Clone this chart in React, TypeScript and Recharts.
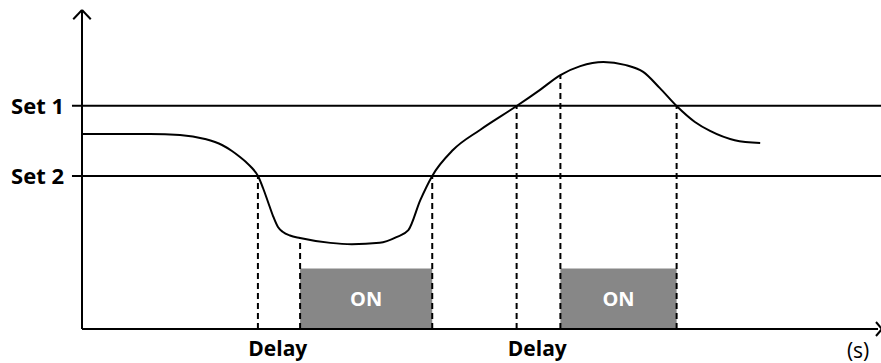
import {
  ComposedChart,
  Line,
  ReferenceArea,
  ReferenceLine,
  XAxis,
  YAxis,
} from "recharts";

// time axis 0..100, level axis 0..100
const curveT = [0, 8.54, 12.31, 15.45, 17.59, 18.84, 19.85, 20.6, 21.36, 22.11, 22.74, 23.37, 24.0, 24.62, 25.25, 26.13, 27.39, 31.2, 33.9, 37.4, 39.5, 41.0, 42.5, 44.0, 46.6, 50.0, 54.6, 57.5, 60.1, 62.6, 65.5, 68.2, 70.5, 72.6, 74.7, 77.0, 78.9, 82.0, 85.2];
const curveV = [61.1, 61.1, 60.82, 59.56, 57.68, 55.8, 53.92, 52.35, 50.47, 47.96, 44.2, 39.81, 35.42, 31.97, 30.41, 29.31, 28.53, 27.0, 26.6, 27.0, 28.8, 31.0, 40.4, 48.0, 56.1, 62.4, 69.9, 74.9, 79.6, 82.4, 83.7, 82.8, 80.6, 75.5, 69.9, 64.9, 62.1, 59.2, 58.3];

const setLevels = [70, 48];
const setLabels = ["Set 1", "Set 2"];

const markerT = [22.1, 27.4, 44.0, 54.6, 60.1, 74.7];
const markerTop = [48, 28.5, 48, 70, 79.6, 70];

const onStart = [27.4, 60.1];
const onEnd = [44.0, 74.7];
const onLevel = 19;

const xTickPos = [24.6, 57.2, 97.5];
const xTickLabels = ["Delay", "Delay", "(s)"];

const curveData = curveT.map((t, i) => ({ t, v: curveV[i] }));

const FONT = "'Open Sans', sans-serif";

function XTick({ x, y, index }: { x?: number; y?: number; index?: number }) {
  const label = xTickLabels[index ?? 0];
  const bold = label !== "(s)";
  return (
    <text
      x={x}
      y={y}
      dy={bold ? 15 : 17}
      textAnchor="middle"
      fontFamily={FONT}
      fontWeight={bold ? 700 : 400}
      fontSize={21}
      fill="#000"
    >
      {label}
    </text>
  );
}

export default function App() {
  return (
    <div style={{ position: "absolute", left: 0, top: 0, background: "#fff" }}>
      <ComposedChart
        width={881}
        height={363}
        data={curveData}
        margin={{ top: 10, right: 3, left: 0, bottom: 0 }}
        accessibilityLayer={false}
      >
        <XAxis
          dataKey="t"
          type="number"
          domain={[0, 100]}
          allowDataOverflow
          ticks={xTickPos}
          tick={<XTick />}
          tickLine={false}
          tickSize={0}
          tickMargin={12}
          height={34}
          axisLine={{ stroke: "#000", strokeWidth: 2 }}
          interval={0}
        />
        <YAxis
          type="number"
          domain={[0, 100]}
          allowDataOverflow
          ticks={setLevels}
          tickFormatter={(v) => setLabels[setLevels.indexOf(v)] ?? ""}
          tickLine={false}
          tickSize={0}
          tickMargin={18}
          width={82}
          interval={0}
          axisLine={{ stroke: "#000", strokeWidth: 2 }}
          tick={{ fill: "#000", fontFamily: FONT, fontWeight: 700, fontSize: 22 }}
        />
        {onStart.map((s, i) => (
          <ReferenceArea
            key={`on-${i}`}
            x1={s}
            x2={onEnd[i]}
            y1={0}
            y2={onLevel}
            fill="#878787"
            fillOpacity={1}
            stroke="none"
            label={{
              value: "ON",
              position: "center",
              fill: "#fff",
              fontFamily: FONT,
              fontWeight: 700,
              fontSize: 20,
            }}
          />
        ))}
        {setLevels.map((lv) => (
          <ReferenceLine
            key={`set-${lv}`}
            segment={[
              { x: -1.26, y: lv },
              { x: 100.5, y: lv },
            ]}
            stroke="#000"
            strokeWidth={2}
            ifOverflow="visible"
          />
        ))}
        {markerT.map((t, i) => (
          <ReferenceLine
            key={`mk-${i}`}
            segment={[
              { x: t, y: 0 },
              { x: t, y: markerTop[i] },
            ]}
            stroke="#000"
            strokeWidth={2}
            strokeDasharray="6 4"
            ifOverflow="visible"
          />
        ))}
        {/* axis arrows */}
        <ReferenceLine segment={[{ x: -1.1, y: 97.1 }, { x: 0, y: 100 }]} stroke="#000" strokeWidth={2} ifOverflow="visible" />
        <ReferenceLine segment={[{ x: 1.1, y: 97.1 }, { x: 0, y: 100 }]} stroke="#000" strokeWidth={2} ifOverflow="visible" />
        <ReferenceLine segment={[{ x: 99.75, y: 2.2 }, { x: 100.5, y: 0 }]} stroke="#000" strokeWidth={2} ifOverflow="visible" />
        <ReferenceLine segment={[{ x: 99.75, y: -2.2 }, { x: 100.5, y: 0 }]} stroke="#000" strokeWidth={2} ifOverflow="visible" />
        <Line
          type="monotone"
          dataKey="v"
          stroke="#000"
          strokeWidth={2}
          dot={false}
          activeDot={false}
          isAnimationActive={false}
        />
      </ComposedChart>
    </div>
  );
}
